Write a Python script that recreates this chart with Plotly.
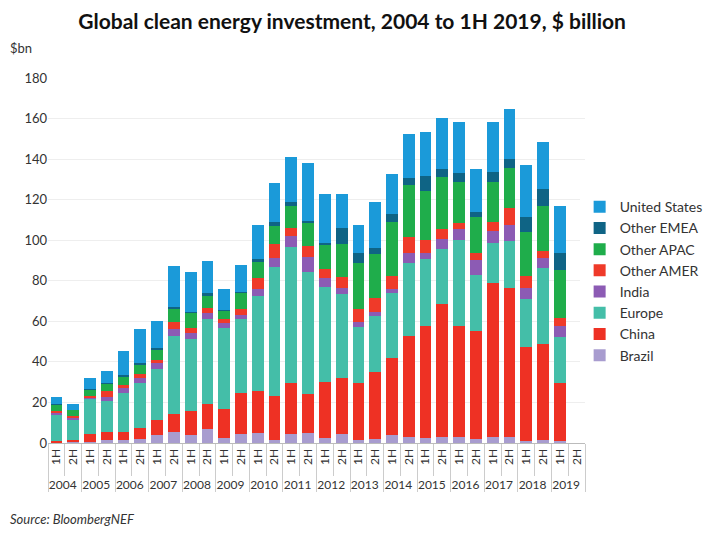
import plotly.graph_objects as go

# half-year categories
years = [str(y) for y in range(2004, 2020) for _ in range(2)]
halves = ["1H", "2H"] * 16

# $bn (2019 2H still empty)
brazil = [0.2, 0.3, 0.4, 1.5, 1.5, 1.8, 3.9, 5.6, 3.9, 6.7, 2.3, 4.3, 4.8, 1.5, 4.4, 4.8,
          2.6, 4.4, 1.5, 2.0, 3.9, 2.8, 2.3, 3.1, 2.8, 1.8, 2.8, 2.8, 1.1, 1.5, 1.1, None]
china = [1.0, 1.2, 4.0, 4.1, 4.1, 5.4, 7.4, 8.5, 12.0, 12.5, 14.5, 20.5, 21.0, 21.7, 25.3, 19.2,
         27.6, 27.5, 27.9, 33.2, 38.2, 50.0, 55.4, 65.4, 54.9, 53.4, 75.9, 73.8, 46.4, 47.3, 28.6, None]
europe = [13.0, 9.8, 17.1, 15.1, 19.2, 22.2, 25.2, 38.7, 35.4, 41.9, 40.1, 36.2, 46.7, 63.7, 67.1, 60.2,
          46.7, 41.6, 27.9, 27.4, 31.7, 35.8, 33.0, 27.2, 42.4, 27.6, 19.8, 23.2, 23.4, 37.6, 22.4, None]
india = [0.8, 1.2, 1.0, 2.1, 2.5, 2.5, 2.8, 3.3, 2.8, 2.8, 2.1, 2.1, 3.4, 4.5, 5.4, 7.4,
         4.6, 2.8, 2.5, 2.1, 2.1, 5.2, 2.8, 4.7, 5.3, 7.4, 6.0, 7.7, 5.4, 5.0, 5.7, None]
other_amer = [0.8, 1.0, 0.8, 3.0, 1.5, 2.0, 1.6, 3.7, 2.8, 2.5, 2.0, 2.8, 5.6, 6.6, 3.7, 5.7,
              4.1, 5.7, 6.3, 6.9, 6.6, 7.9, 6.6, 5.1, 2.9, 3.3, 4.3, 8.2, 6.2, 3.4, 4.0, None]
other_apac = [3.2, 2.8, 3.0, 3.6, 4.2, 4.4, 5.4, 6.6, 7.4, 6.2, 4.1, 8.2, 7.9, 9.0, 11.1, 11.0,
              12.4, 16.0, 22.5, 21.6, 26.6, 25.5, 24.2, 25.5, 20.6, 17.8, 20.1, 19.7, 21.7, 22.1, 23.5, None]
other_emea = [0.3, 0.2, 0.4, 0.3, 0.4, 1.0, 0.4, 0.5, 0.5, 1.2, 0.5, 0.5, 1.3, 2.1, 2.0, 1.2,
              0.8, 8.2, 4.9, 3.1, 3.8, 3.3, 7.4, 4.0, 4.4, 2.8, 4.9, 4.6, 7.4, 8.3, 8.2, None]
united_states = [3.5, 2.9, 5.6, 6.0, 12.0, 16.9, 13.6, 20.4, 19.5, 16.1, 10.2, 13.2, 16.8, 18.9, 22.2, 28.7,
                 24.0, 16.6, 14.0, 22.7, 19.6, 21.7, 21.8, 25.4, 25.1, 20.9, 24.3, 24.7, 25.5, 23.4, 23.5, None]

series = [
    ("Brazil", brazil, "#a89ccf"),
    ("China", china, "#ee3124"),
    ("Europe", europe, "#44bea8"),
    ("India", india, "#8c5bb4"),
    ("Other AMER", other_amer, "#ef3a29"),
    ("Other APAC", other_apac, "#1fad4b"),
    ("Other EMEA", other_emea, "#0f6485"),
    ("United States", united_states, "#1b9ad9"),
]

FONT = "Lato"

fig = go.Figure()
for name, vals, col in series:
    fig.add_trace(go.Bar(x=[years, halves], y=vals, name=name, marker_color=col,
                         marker_line_width=0))

# page body adds an 8px offset, so margins are shifted up/left by 8
fig.update_layout(
    barmode="stack",
    bargap=0.3,
    width=711, height=533,
    margin=dict(l=40, r=134, t=70, b=98, autoexpand=False),
    paper_bgcolor="white", plot_bgcolor="white",
    font=dict(family=FONT, size=13, color="#333333"),
    title=dict(text="<b>Global clean energy investment, 2004 to 1H 2019, $ billion</b>",
               x=0.484, xanchor="center", y=0.975, yanchor="middle",
               font=dict(family=FONT, size=21, color="#111111")),
    legend=dict(traceorder="reversed", x=0.99, xanchor="left", y=0.69, yanchor="top",
                font=dict(size=14, color="#333333"), itemwidth=30, tracegroupgap=0),
    showlegend=True,
)

fig.update_yaxes(range=[0, 180], dtick=20, showgrid=True, gridcolor="#eeeeee",
                 zeroline=False, ticks="", tickfont=dict(size=13, color="#333333"))
fig.update_xaxes(type="multicategory", tickangle=-90, showline=True, linecolor="#bbbbbb",
                 ticks="outside", tickson="boundaries", ticklen=32, tickcolor="#cccccc",
                 showdividers=True, dividercolor="#cccccc", dividerwidth=1,
                 tickfont=dict(size=12, color="#333333"))

fig.add_annotation(text="$bn", xref="paper", yref="paper", x=-0.074, y=1.082,
                   xanchor="left", yanchor="middle", showarrow=False,
                   font=dict(size=13, color="#333333"))
fig.add_annotation(text="<i>Source: BloombergNEF</i>", xref="paper", yref="paper",
                   x=-0.074, y=-0.236, xanchor="left", yanchor="bottom", showarrow=False,
                   font=dict(size=13, color="#333333"))

fig.write_html("out.html")
